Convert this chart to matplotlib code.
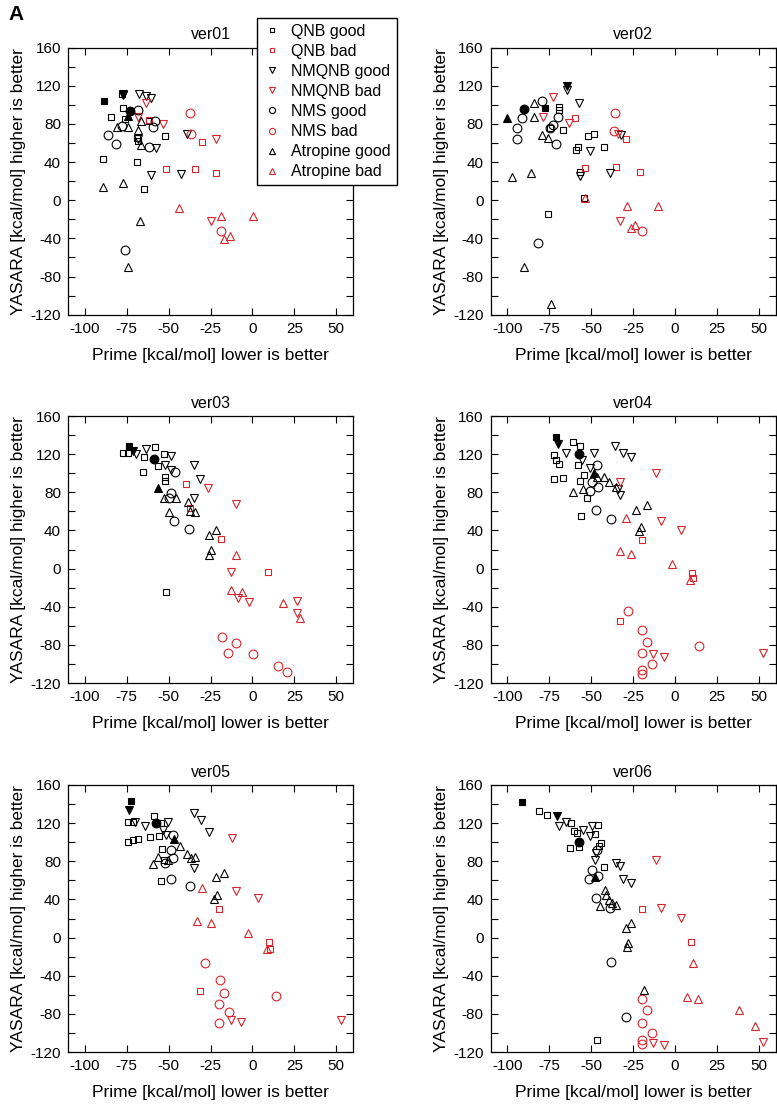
import matplotlib
matplotlib.use("Agg")
import matplotlib.pyplot as plt
from matplotlib.lines import Line2D
from matplotlib.ticker import MultipleLocator

plt.rcParams['font.family'] = ['Liberation Sans', 'DejaVu Sans']
plt.rcParams['axes.unicode_minus'] = False

# ---------------- data (Prime x, YASARA y) ----------------
PANELS = ["ver01", "ver02", "ver03", "ver04", "ver05", "ver06"]
SERIES = ["QNB good", "QNB bad", "NMQNB good", "NMQNB bad",
          "NMS good", "NMS bad", "Atropine good", "Atropine bad"]

# filled reference points per panel: QNB (square), NMQNB (down tri), NMS (circle), Atropine (up tri)
ref_v1 = [(-88.5, 104), (-77, 110), (-73, 94), (-74, 88)]
ref_v2 = [(-77.5, 97), (-64.5, 120), (-90, 96), (-100, 86)]
ref_v3 = [(-73.5, 129), (-71, 123), (-59, 115), (-56.5, 85)]
ref_v4 = [(-71, 138), (-69.5, 131), (-57.5, 120), (-48.5, 100)]
ref_v5 = [(-72.5, 143), (-73.5, 134), (-57.5, 120), (-46.5, 103)]
ref_v6 = [(-91, 142), (-70.5, 127.5), (-57.5, 100.5), (-47.5, 63)]

# ver01
qnb_good_v1 = [(-78, 111), (-77, 97), (-84.5, 87), (-76, 85), (-61.5, 83), (-52, 67),
               (-69, 65), (-68.5, 62), (-89, 43), (-69, 40), (-64.5, 12)]
qnb_bad_v1 = [(-61.5, 84), (-30, 61), (-51.5, 33), (-34, 33), (-22, 28.5)]
nmqnb_good_v1 = [(-77, 111), (-67.5, 111), (-63.5, 109), (-60.5, 107.5), (-39, 69),
                 (-57.5, 55), (-60.5, 26), (-42.5, 27.5), (-68.5, 64)]
nmqnb_bad_v1 = [(-63.5, 101.5), (-68, 87), (-53.5, 80), (-22, 64), (-25, -21.5)]
nms_good_v1 = [(-68, 94.5), (-58, 83.5), (-59.5, 76.5), (-86, 68.5), (-81.5, 59.5),
               (-77.5, 78), (-61.5, 56), (-76, -52)]
nms_bad_v1 = [(-37, 91), (-36.5, 70), (-18.5, -32.5)]
atr_good_v1 = [(-81, 76.5), (-74, 77), (-66.5, 83.5), (-68.5, 73.5), (-66.5, 58),
               (-89, 14), (-77, 18.5), (-67, -22), (-74, -69.5)]
atr_bad_v1 = [(-43.5, -8), (-19, -16), (0.5, -16), (-17, -40.5), (-13.5, -37.5)]

# ver02
qnb_good_v2 = [(-69, 97.5), (-69, 94.5), (-67, 73.5), (-74.5, 75.5), (-52, 67.5),
               (-48.5, 70), (-58, 56), (-59, 52.5), (-42.5, 56), (-56.5, 30),
               (-54.5, 2), (-76, -14)]
qnb_bad_v2 = [(-59.5, 86), (-53.5, 33.5), (-35, 35), (-29.5, 64.5), (-21, 30)]
nmqnb_good_v2 = [(-64.5, 115.5), (-57.5, 102.5), (-51, 52), (-56.5, 25.5),
                 (-39, 29), (-32.5, 68)]
nmqnb_bad_v2 = [(-73, 108), (-79, 87.5), (-63.5, 81.5), (-33, -21.5), (-34, 69.5)]
nms_good_v2 = [(-91.5, 86), (-94.5, 76), (-94.5, 64.5), (-79.5, 104.5), (-72.5, 79),
               (-70, 87), (-71, 59), (-82, -45), (-74.5, 76)]
nms_bad_v2 = [(-36, 91), (-36.5, 73), (-19.5, -32)]
atr_good_v2 = [(-84, 102.5), (-84, 87.5), (-79.5, 68.5), (-75.5, 65.5), (-97.5, 24),
               (-86, 29), (-90, -69.5), (-74, -109)]
atr_bad_v2 = [(-53.5, 2.5), (-28.5, -5.5), (-10, -5.5), (-24, -26), (-26, -29)]

# ver03
qnb_good_v3 = [(-77, 121), (-74, 121), (-58, 127), (-64.5, 117.5), (-53, 120),
               (-56.5, 107.5), (-65, 101), (-52, 96.5), (-52, 92), (-51.5, -25)]
qnb_bad_v3 = [(-39.5, 88.5), (-19, 31), (9.5, -4), (-37, 63)]
nmqnb_good_v3 = [(-69.5, 120), (-63.5, 125), (-48.5, 118), (-52, 108.5), (-48.5, 103.5),
                 (-35, 108.5), (-31, 93.5), (-35, 74.5)]
nmqnb_bad_v3 = [(-26.5, 85), (-10, 67.5), (-12.5, -4), (-8.5, -30.5), (-2, -35),
                (26.5, -33.5), (26.5, -47)]
nms_good_v3 = [(-46, 101), (-48.5, 79), (-46.5, 50), (-38, 42), (-49.5, 73.5)]
nms_bad_v3 = [(-18, -72), (-9.5, -78.5), (-14.5, -88.5), (0.5, -89.5), (15.5, -102),
              (20.5, -108)]
atr_good_v3 = [(-53, 74.5), (-45.5, 74.5), (-38.5, 69.5), (-37.5, 60.5), (-34, 59),
               (-49.5, 59), (-26, 35), (-22, 40.5), (-24.5, 19.5), (-26, 14)]
atr_bad_v3 = [(-10, 14), (-13, -22), (-6.5, -25), (18.5, -36.5), (28.5, -51.5)]

# ver04
qnb_good_v4 = [(-72, 119), (-71, 114), (-69, 110), (-61, 133), (-56.5, 129),
               (-58, 108.5), (-67, 95.5), (-72, 94), (-54.5, 98), (-56.5, 92),
               (-52.5, 74.5), (-56, 55.5)]
qnb_bad_v4 = [(-19.5, 30), (10, -4.5), (10.5, -10), (-33, -55.5)]
nmqnb_good_v4 = [(-65, 121), (-48.5, 121), (-51, 105), (-35.5, 128.5), (-31, 121),
                 (-26.5, 117.5), (-34, 83), (-33, 77), (-55.5, 114)]
nmqnb_bad_v4 = [(-11.5, 100.5), (-33, 90.5), (-8.5, 50), (3.5, 40.5), (-13, -90),
                (-6.5, -92.5), (52.5, -89)]
nms_good_v4 = [(-46.5, 108.5), (-49.5, 91), (-46, 85.5), (-50.5, 81.5), (-47, 61.5),
               (-38, 51.5)]
nms_bad_v4 = [(-28, -45), (-19.5, -64), (-17, -76.5), (-19.5, -89), (-13.5, -100),
              (-19.5, -106.5), (-19.5, -111), (14.5, -81)]
atr_good_v4 = [(-61, 80.5), (-55, 83), (-46.5, 96.5), (-42.5, 96.5), (-39.5, 90.5),
               (-35, 86), (-23, 61.5), (-17, 66.5), (-20, 44), (-21.5, 39.5)]
atr_bad_v4 = [(-29.5, 53.5), (-33, 18.5), (-26, 15), (-2, 5), (9, -12)]

# ver05
qnb_good_v5 = [(-74.5, 121), (-71, 121), (-58.5, 127), (-54.5, 120), (-61, 105),
               (-56, 107), (-74, 100), (-71, 102.5), (-68, 103), (-54, 92.5),
               (-52.5, 81.5), (-54.5, 59.5)]
qnb_bad_v5 = [(-20, 29.5), (10, -5), (10.5, -11.5), (-31.5, -56)]
nmqnb_good_v5 = [(-70, 121), (-64, 117), (-50.5, 121.5), (-53.5, 113), (-51.5, 107.5),
                 (-35, 131), (-30.5, 123.5), (-26, 111), (-35, 72.5)]
nmqnb_bad_v5 = [(-12, 104), (-9.5, 49), (3.5, 41), (-12.5, -86.5), (-7, -89),
                (53, -86)]
nms_good_v5 = [(-47.5, 107.5), (-48.5, 92), (-47.5, 83), (-52, 78.5), (-48.5, 61),
               (-37.5, 54)]
nms_bad_v5 = [(-28, -27), (-19.5, -45), (-17, -58), (-20, -70), (-14, -78.5),
              (-20, -89.5), (14, -61)]
atr_good_v5 = [(-59.5, 77), (-56.5, 84), (-50.5, 81.5), (-43, 96), (-39, 87.5),
               (-36.5, 83), (-34, 84), (-22, 64), (-17, 68), (-21, 44.5), (-23, 40)]
atr_bad_v5 = [(-30, 52.5), (-33, 17.5), (-25, 15), (-2.5, 5), (8.5, -12)]

# ver06
qnb_good_v6 = [(-81, 132.5), (-76.5, 129), (-62, 120), (-60.5, 111.5), (-58.5, 110),
               (-46, 118), (-47.5, 108.5), (-44, 99), (-45.5, 96), (-62.5, 93.5),
               (-57, 94.5), (-42.5, 73.5), (-46.5, -107)]
qnb_bad_v6 = [(-19.5, 29.5), (9.5, -5)]
nmqnb_good_v6 = [(-69, 117), (-65, 121), (-55, 113), (-50.5, 106.5), (-49.5, 116.5),
                 (-47, 89), (-48, 81.5), (-35, 78), (-33, 75), (-31, 61), (-26.5, 57)]
nmqnb_bad_v6 = [(-11.5, 81.5), (-8.5, 30.5), (3.5, 21), (-13, -110.5), (-6.5, -112.5),
                (52.5, -109)]
nms_good_v6 = [(-49.5, 71), (-51.5, 61.5), (-46, 64.5), (-47, 41), (-38.5, 31.5),
               (-38, -25.5), (-29, -83), (-46.5, 92)]
nms_bad_v6 = [(-19.5, -64), (-16.5, -76), (-19.5, -89.5), (-13.5, -100.5),
              (-19.5, -107), (-19.5, -112)]
atr_good_v6 = [(-41.5, 50), (-41, 44.5), (-39.5, 39.5), (-44.5, 33.5), (-37.5, 36.5),
               (-35, 34), (-29, 10.5), (-26, 15), (-28.5, -9.5), (-28, -6), (-18.5, -55)]
atr_bad_v6 = [(10.5, -26.5), (7, -62), (14, -64.5), (38, -75.5), (48, -92.5)]

X_TICKS = [-100, -75, -50, -25, 0, 25, 50]
Y_TICKS = [-120, -80, -40, 0, 40, 80, 120, 160]
XLABEL = "Prime [kcal/mol] lower is better"
YLABEL = "YASARA [kcal/mol] higher is better"

# ---------------- styling ----------------
RED = "#d4262c"
BLACK = "#000000"
series_keys = ["qnb_good", "qnb_bad", "nmqnb_good", "nmqnb_bad",
               "nms_good", "nms_bad", "atr_good", "atr_bad"]
series_marker = ["s", "s", "v", "v", "o", "o", "^", "^"]
series_color = [BLACK, RED, BLACK, RED, BLACK, RED, BLACK, RED]
msize = {"s": 5.0, "v": 6.0, "o": 6.3, "^": 6.0}
ref_markers = ["s", "v", "o", "^"]

g = globals()

fig = plt.figure(figsize=(7.77, 11.04), dpi=100)
W, H = 777.0, 1104.0
lefts = [68, 490.6]
tops = [47.7, 416, 785]
aw, ah = 285, 267

for i, name in enumerate(PANELS):
    r, c = divmod(i, 2)
    ax = fig.add_axes([lefts[c] / W, 1 - (tops[r] + ah) / H, aw / W, ah / H])
    for key, mk, col in zip(series_keys, series_marker, series_color):
        pts = g[f"{key}_v{i + 1}"]
        xs = [p[0] for p in pts]
        ys = [p[1] for p in pts]
        ax.plot(xs, ys, linestyle="none", marker=mk, markersize=msize[mk],
                markerfacecolor="none", markeredgecolor=col, markeredgewidth=0.8)
    refs = g[f"ref_v{i + 1}"]
    for (x, y), mk in zip(refs, ref_markers):
        ax.plot([x], [y], linestyle="none", marker=mk, markersize=msize[mk],
                markerfacecolor=BLACK, markeredgecolor=BLACK, markeredgewidth=0.8)
    ax.set_xlim(-110, 60)
    ax.set_ylim(-120, 160)
    ax.set_xticks(X_TICKS)
    ax.set_yticks(Y_TICKS)
    ax.yaxis.set_minor_locator(MultipleLocator(20))
    ax.tick_params(which="both", direction="in", top=True, right=True,
                   length=5, width=0.8, labelsize=11)
    ax.tick_params(axis="y", pad=5)
    ax.tick_params(axis="x", pad=5)
    for s in ax.spines.values():
        s.set_linewidth(0.9)
    ax.set_title(name, fontsize=11.5, pad=6)
    ax.set_xlabel(XLABEL, fontsize=12.5, labelpad=9)
    ax.set_ylabel(YLABEL, fontsize=12.5, labelpad=3)

handles = [Line2D([], [], linestyle="none", marker=mk, markersize=msize[mk] * 0.7,
                  markerfacecolor="none", markeredgecolor=col, markeredgewidth=0.8)
           for mk, col in zip(series_marker, series_color)]
fig.legend(handles, SERIES, loc="upper left", bbox_to_anchor=(257 / W, 1 - 18 / H),
           fontsize=11.5, frameon=True, fancybox=False, edgecolor="black",
           framealpha=1, handlelength=1.2, handletextpad=0.6, labelspacing=0.32,
           borderpad=0.35, borderaxespad=0)

fig.text(8 / W, 1 - 14 / H, "A", fontsize=15, fontweight="bold", va="center", ha="left")

fig.savefig("out.png", dpi=100)
